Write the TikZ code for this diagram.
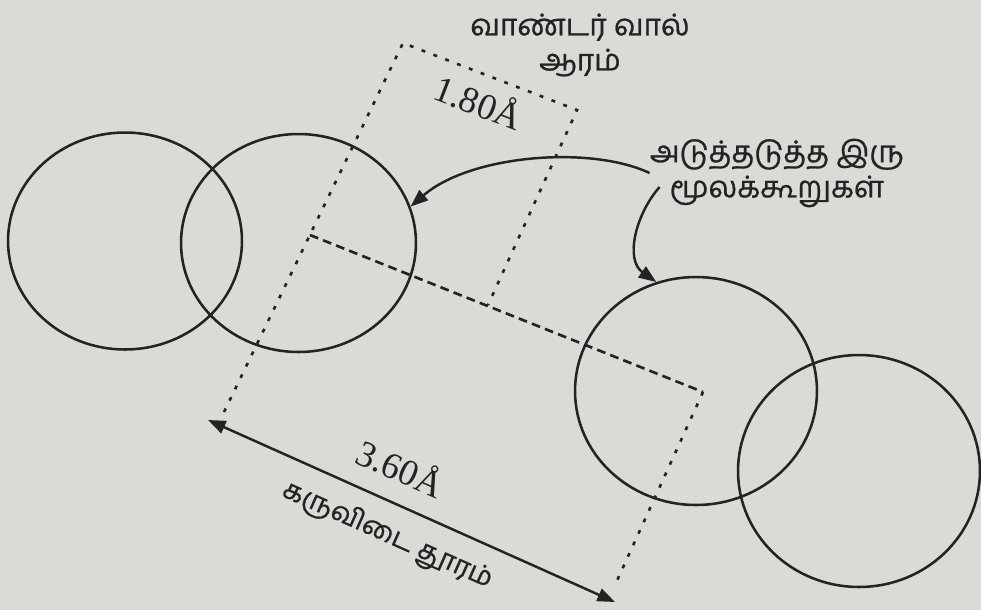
\documentclass[tikz,border=0pt]{standalone}
\usepackage{fontspec}
\setmainfont{Liberation Serif}
\newfontfamily\tamilfont[Script=Tamil,FakeBold=0.8]{Hind Madurai}
\usetikzlibrary{shapes.geometric,arrows.meta,positioning,calc}
\definecolor{paper}{RGB}{218,219,214}
\definecolor{ink}{RGB}{35,35,35}
\tikzset{
  >={Triangle[length=10pt,width=7.5pt]},
  mol/.style={draw=ink,ellipse,line width=1.45pt,inner sep=0pt},
  vdw/.style={draw=ink,line width=1.5pt,dash pattern=on 2.2pt off 5pt},
  bond/.style={draw=ink,line width=1.5pt,dash pattern=on 5pt off 3pt},
  tam/.style={text=ink,font=\tamilfont\fontsize{17}{20}\selectfont,align=center,inner sep=0pt},
  len/.style={text=ink,font=\fontsize{21}{24}\selectfont,inner sep=0pt},
  ptr/.style={->,draw=ink,line width=1.4pt}
}

\begin{document}
\begin{tikzpicture}[x=0.02cm,y=-0.02cm]
\fill[paper] (0,0) rectangle (981,610);
\useasboundingbox (0,0) rectangle (981,610);
\node[mol,minimum width=4.68cm,minimum height=4.34cm] (molA) at (125,241) {};
\node[mol,minimum width=4.70cm,minimum height=4.36cm] (molB) at (298.5,243) {};
\node[mol,minimum width=4.84cm,minimum height=4.56cm] (molC) at (696,391) {};
\node[mol,minimum width=4.84cm,minimum height=4.64cm] (molD) at (859,471) {};
\coordinate (nB) at (310,235);
\coordinate (nC) at (703,392);
\coordinate (tl) at (403,43);
\coordinate (tr) at (577,110);
\coordinate (mr) at (488,305);
\coordinate (lb) at (224,412);
\coordinate (rb) at (615,585);
\coordinate (al) at (208,420);
\coordinate (ar) at (615,602);
\draw[vdw] (lb) -- (tl) -- (tr) -- (mr);
\draw[bond] (nB) -- (nC);
\draw[vdw] (nC) -- (rb);
\draw[ptr,<->] (al) -- (ar);
\node[tam] (vdwlbl) at (580,45) {வாண்டர் வால்\\ஆரம்};
\node[tam] (pair) at (777,173) {அடுத்தடுத்த இரு\\மூலக்கூறுகள்};
\node[len,rotate=-21] (rlbl) at (479,101) {1.80Å};
\node[len,rotate=-24] (dlbl) at (401,467) {3.60Å};
\node[tam,font=\tamilfont\fontsize{15.5}{18}\selectfont,rotate=-24] (dname) at (387,536) {கருவிடை தூரம்};
\coordinate (p2) at ($(pair.west)+(10,14)$);
\draw[ptr] (pair.west) .. controls (590,145) and (470,155) .. (molB.18);
\draw[ptr] (p2) .. controls (635,215) and (625,260) .. (molC.110);
\end{tikzpicture}
\end{document}
